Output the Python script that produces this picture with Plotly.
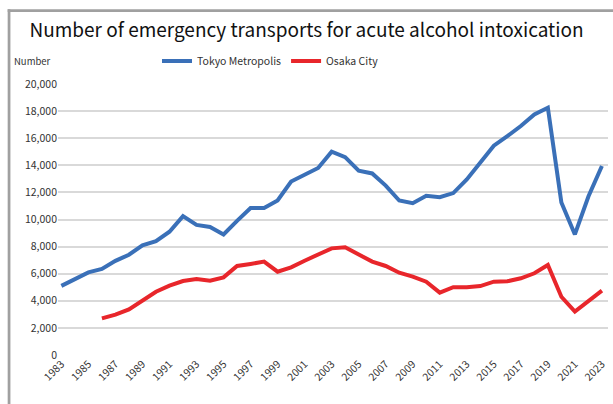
import plotly.graph_objects as go

years = list(range(1983, 2024))
tokyo = [5100, 5600, 6100, 6350, 6950, 7400, 8100, 8400, 9100, 10250,
         9600, 9450, 8900, 9900, 10850, 10850, 11400, 12800, 13300, 13800,
         15000, 14600, 13600, 13400, 12500, 11400, 11200, 11750, 11650, 11950,
         12950, 14250, 15450, 16150, 16900, 17750, 18250, 11250, 8900, 11700, 13950]
osaka_years = list(range(1986, 2024))
osaka = [2700, 2980, 3370, 4050, 4670, 5120, 5460, 5600, 5480, 5730,
         6570, 6720, 6890, 6150, 6470, 6960, 7450, 7870, 7950, 7450,
         6890, 6570, 6070, 5780, 5410, 4600, 5000, 5000, 5090, 5410,
         5440, 5660, 6030, 6640, 4300, 3200, 3930, 4750]
tick_years = list(range(1983, 2024, 2))
y_ticks = list(range(0, 20001, 2000))

FONT = "Noto Sans CJK JP"
fig = go.Figure()
fig.add_trace(go.Scatter(x=years, y=tokyo, mode="lines", name="Tokyo Metropolis",
                         line=dict(color="#3a70b8", width=4)))
fig.add_trace(go.Scatter(x=osaka_years, y=osaka, mode="lines", name="Osaka City",
                         line=dict(color="#e8262b", width=4)))

fig.update_layout(
    width=613, height=404,
    margin=dict(l=58, r=5, t=84, b=49),
    paper_bgcolor="white", plot_bgcolor="white",
    font=dict(family=FONT, color="#222222"),
    title=dict(text="Number of emergency transports for acute alcohol intoxication",
               x=0.5, xanchor="center", y=0.925, yanchor="middle",
               font=dict(size=19, color="#111111", family=FONT)),
    showlegend=True,
    legend=dict(orientation="h", x=0.18, xanchor="left", y=1.085, yanchor="middle",
                font=dict(size=10.5, color="#333333"), bgcolor="rgba(0,0,0,0)",
                itemwidth=30, tracegroupgap=0),
    xaxis=dict(range=[1982.75, 2023.45], tickmode="array", tickvals=tick_years,
               ticktext=[str(y) for y in tick_years], tickangle=-45,
               tickfont=dict(size=10.5, color="#333333"), showgrid=False,
               zeroline=False, showline=False, ticks=""),
    yaxis=dict(range=[0, 20000], tickmode="array", tickvals=y_ticks,
               ticktext=[f"{v:,}" for v in y_ticks],
               tickfont=dict(size=10.5, color="#333333"),
               showgrid=True, gridcolor="#d9d9d9", gridwidth=1.5,
               zeroline=False, showline=False, ticks="", ticklen=4,
               tickcolor="white"),
    annotations=[dict(text="Number", xref="paper", yref="paper",
                      x=-0.084, y=1.085, xanchor="left", yanchor="middle",
                      showarrow=False, font=dict(size=9.5, color="#333333"))],
    shapes=[
        dict(type="rect", xref="paper", yref="paper", x0=-0.0915, x1=-0.0865,
             y0=-0.3, y1=1.276, line=dict(width=0), fillcolor="#a0a0a0"),
        dict(type="rect", xref="paper", yref="paper", x0=-0.0915, x1=1.05,
             y0=1.266, y1=1.276, line=dict(width=0), fillcolor="#a0a0a0"),
    ],
)
fig.write_html("out.html", config={"displayModeBar": False},
               post_script="document.body.style.margin='0';")
